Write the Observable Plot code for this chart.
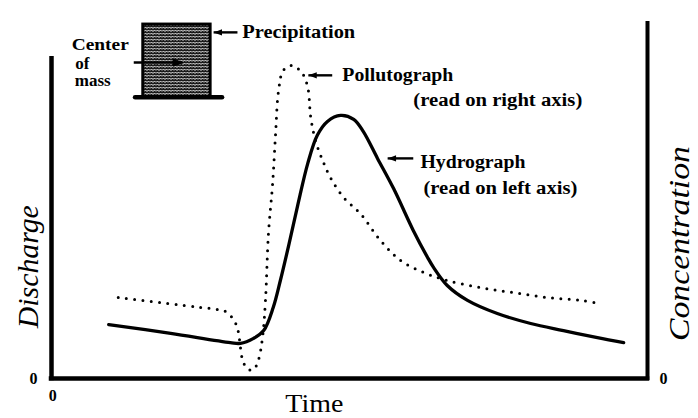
<!DOCTYPE html>
<html>
<head>
<meta charset="utf-8">
<script src="https://cdn.jsdelivr.net/npm/d3@7"></script>
<script src="https://cdn.jsdelivr.net/npm/@observablehq/plot@0.6"></script>
<style>
  html, body { margin: 0; padding: 0; background: #fff; }
</style>
</head>
<body>
<div id="chart"></div>
<script>
// Hydrograph (discharge, left axis) — time in % of axis length, discharge in % of axis height
const hydroTime = [9.6,20.0,30.0,31.7,33.9,35.6,37.2,38.4,39.8,41.3,43.0,44.6,46.3,48.5,50.7,52.3,54.7,57.4,60.7,63.1,64.1,66.4,69.8,74.8,80.4,85.9,91.6,96.0];
const discharge = [15.2,12.7,10.1,9.9,11.3,13.5,20.0,27.6,37.5,48.7,60.6,68.5,72.4,74.1,73.0,69.6,62.0,53.5,41.7,34.1,31.3,26.2,22.0,18.3,15.5,13.5,11.5,10.1];

// Pollutograph (concentration, right axis)
const pollTime = [11.2,19.5,25.0,28.0,29.5,30.9,31.4,31.7,32.2,33.1,33.9,34.7,35.4,35.9,36.4,37.1,37.6,38.1,38.9,40.4,42.1,43.0,43.5,44.3,45.5,46.8,49.0,51.8,55.2,58.6,62.4,66.4,72.0,77.5,83.2,88.8,92.1];
const concentration = [22.8,21.1,20.0,19.4,18.6,15.5,12.7,8.7,4.5,2.5,2.5,5.1,11.5,22.0,40.8,54.9,69.0,81.1,86.8,88.2,85.9,82.0,73.5,67.0,61.4,56.6,51.0,46.5,38.9,33.2,29.9,27.6,25.6,24.2,22.8,22.0,21.1];

// Precipitation block
const precipStart = [15.4];
const precipEnd = [26.7];
const precipTop = [99.7];
const precipBase = [79.2];
const precipBaseStart = [14.1];
const precipBaseEnd = [28.7];

// Annotations
const annoText = ["Precipitation","Center","of","mass","Pollutograph","(read on right axis)","Hydrograph","(read on left axis)"];
const annoTime = [32.0,3.4,4.0,3.9,48.8,60.7,61.9,62.4];
const annoLevel = [95.8,92.4,87.3,82.3,83.9,76.9,59.4,52.1];
const annoSize = [18,17,17,17,18,18,18,18];
const annoWidth = [113,57,null,null,111,169,105,154];

// Pointer arrows
const arrowFrom = [31.2,47.1,60.7,13.8];
const arrowTo = [27.2,43.1,56.4,22.0];
const arrowLevel = [97.5,85.4,62.0,89.0];

// Axis extents and labels
const leftAxisTop = [90.1];
const rightAxisTop = [100];
const zeroText = ["0","0","0"];
const zeroTime = [-3.0,0.2,102.7];
const zeroLevel = [0,-4.8,0];
const axisTitles = ["Discharge","Concentration"];
const axisTitleTime = [-2.2,106.9];
const axisTitleLevel = [31.5,38.0];
const axisTitleWidth = [123,195];
const xTitle = ["Time"];
const xTitleTime = [44.1];
const xTitleLevel = [-9.3];
const xTitleWidth = [58];

const hydro = hydroTime.map((t, i) => ({t, v: discharge[i]}));
const poll = pollTime.map((t, i) => ({t, v: concentration[i]}));
const annos = annoText.map((text, i) => ({text, t: annoTime[i], v: annoLevel[i], size: annoSize[i]}));
const arrows = arrowFrom.map((a, i) => ({x1: a, x2: arrowTo[i], y: arrowLevel[i], left: arrowTo[i] < a}));
const zeros = zeroText.map((text, i) => ({text, t: zeroTime[i], v: zeroLevel[i]}));
const titles = axisTitles.map((text, i) => ({text, t: axisTitleTime[i], v: axisTitleLevel[i]}));

// Arrowhead symbols with the tip at the origin
const headLeft = {draw(ctx, size) { const s = Math.sqrt(size / Math.PI); ctx.moveTo(0, 0); ctx.lineTo(2 * s, -0.75 * s); ctx.lineTo(2 * s, 0.75 * s); ctx.closePath(); }};
const headRight = {draw(ctx, size) { const s = Math.sqrt(size / Math.PI); ctx.moveTo(0, 0); ctx.lineTo(-2 * s, -0.75 * s); ctx.lineTo(-2 * s, 0.75 * s); ctx.closePath(); }};

const serif = "'Liberation Serif', 'DejaVu Serif', serif";

const chart = Plot.plot({
  width: 698,
  height: 418,
  marginLeft: 51,
  marginRight: 51,
  marginTop: 23,
  marginBottom: 40,
  x: {domain: [0, 100], axis: null},
  y: {domain: [0, 100], axis: null},
  style: {background: "white", color: "black", fontFamily: serif, overflow: "visible"},
  marks: [
    // axes
    Plot.ruleX([0], {y1: 0, y2: leftAxisTop[0], stroke: "black", strokeWidth: 4.5, strokeLinecap: "square"}),
    Plot.ruleX([100], {y1: 0, y2: rightAxisTop[0], stroke: "black", strokeWidth: 4, strokeLinecap: "square"}),
    Plot.ruleY([0], {x1: 0, x2: 100, stroke: "black", strokeWidth: 4.5, strokeLinecap: "square"}),
    // precipitation block
    Plot.rect([0], {x1: precipStart[0], x2: precipEnd[0], y1: precipBase[0], y2: precipTop[0], fill: "#123456", stroke: "black", strokeWidth: 3}),
    Plot.ruleY([precipBase[0]], {x1: precipBaseStart[0], x2: precipBaseEnd[0], stroke: "black", strokeWidth: 4.5, strokeLinecap: "round"}),
    // curves
    Plot.line(poll, {x: "t", y: "v", curve: "catmull-rom", stroke: "black", strokeWidth: 3, strokeLinecap: "round", strokeDasharray: "0 8.3"}),
    Plot.line(hydro, {x: "t", y: "v", curve: "catmull-rom", stroke: "black", strokeWidth: 3.3, strokeLinecap: "round"}),
    // pointer arrows
    Plot.link(arrows, {x1: "x1", x2: "x2", y1: "y", y2: "y", stroke: "black", strokeWidth: 2.4}),
    Plot.dot(arrows.filter(d => d.left), {x: "x2", y: "y", r: 4.2, symbol: headLeft, fill: "black", stroke: "none"}),
    Plot.dot(arrows.filter(d => !d.left), {x: "x2", y: "y", r: 4.8, symbol: headRight, fill: "black", stroke: "black", strokeWidth: 1}),
    // annotation text
    Plot.text(annos, {x: "t", y: "v", text: "text", textAnchor: "start", lineAnchor: "bottom", fontFamily: serif, fontWeight: "bold", fontSize: "size", fill: "black"}),
    // zero labels
    Plot.text(zeros, {x: "t", y: "v", text: "text", textAnchor: "middle", lineAnchor: "middle", fontFamily: serif, fontWeight: "bold", fontSize: 16, fill: "black"}),
    // axis titles
    Plot.text(titles, {x: "t", y: "v", text: "text", rotate: -90, textAnchor: "middle", lineAnchor: "bottom", fontFamily: serif, fontStyle: "italic", fontSize: 29, fill: "black"}),
    Plot.text(xTitle, {x: xTitleTime, y: xTitleLevel, text: d => d, textAnchor: "middle", lineAnchor: "bottom", fontFamily: serif, fontSize: 25, fill: "black"})
  ]
});

// textured fill for the precipitation block
const ns = "http://www.w3.org/2000/svg";
const defs = document.createElementNS(ns, "defs");
const pat = document.createElementNS(ns, "pattern");
pat.setAttribute("id", "precipTexture");
pat.setAttribute("width", "6");
pat.setAttribute("height", "6");
pat.setAttribute("patternUnits", "userSpaceOnUse");
const bg = document.createElementNS(ns, "rect");
bg.setAttribute("width", "6"); bg.setAttribute("height", "6"); bg.setAttribute("fill", "#1a1a1a");
pat.appendChild(bg);
const zig = document.createElementNS(ns, "path");
zig.setAttribute("d", "M0 1.5 L1.5 0 L3 1.5 L4.5 0 L6 1.5 M0 4.5 L1.5 3 L3 4.5 L4.5 3 L6 4.5");
zig.setAttribute("stroke", "#f4f4f4"); zig.setAttribute("stroke-width", "1"); zig.setAttribute("fill", "none");
pat.appendChild(zig);
defs.appendChild(pat);
chart.insertBefore(defs, chart.firstChild);
chart.querySelectorAll('[fill="#123456"]').forEach(el => el.setAttribute("fill", "url(#precipTexture)"));

// fit text lengths to the reference
const widths = new Map();
annoText.forEach((t, i) => { if (annoWidth[i]) widths.set(t, annoWidth[i]); });
axisTitles.forEach((t, i) => widths.set(t, axisTitleWidth[i]));
xTitle.forEach((t, i) => widths.set(t, xTitleWidth[i]));
chart.querySelectorAll("text").forEach(el => {
  const w = widths.get(el.textContent);
  if (w) { el.setAttribute("textLength", w); el.setAttribute("lengthAdjust", "spacingAndGlyphs"); }
});

document.getElementById("chart").appendChild(chart);
</script>
</body>
</html>
